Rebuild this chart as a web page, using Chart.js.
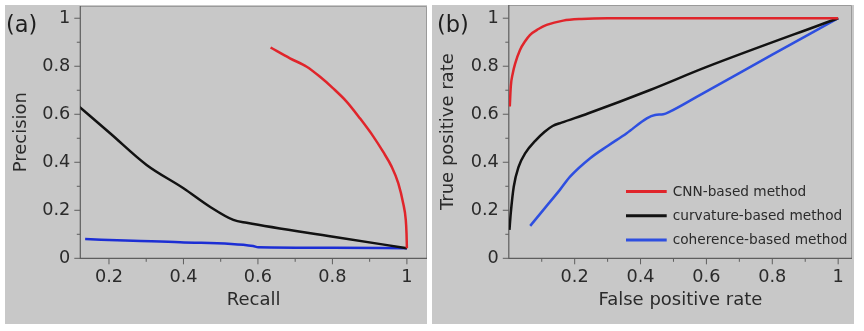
<!DOCTYPE html>
<html>
<head>
<meta charset="utf-8">
<script src="https://cdn.jsdelivr.net/npm/chart.js@4/dist/chart.umd.min.js"></script>
<style>
  html, body { margin: 0; padding: 0; background: #ffffff; }
  body { width: 864px; height: 331px; position: relative; overflow: hidden; }
  .panel { position: absolute; top: 5px; height: 319px; background: #c8c8c8; }
  #pa { left: 5px; width: 422px; }
  #pb { left: 432px; width: 422px; }
  canvas { display: block; }
</style>
</head>
<body>
<div class="panel" id="pa"><canvas id="ca" width="422" height="319"></canvas></div>
<div class="panel" id="pb"><canvas id="cb" width="422" height="319"></canvas></div>
<script>
// ---- (a) precision-recall curves ----
const prCnnRecall       = [0.634, 0.686, 0.731, 0.766, 0.802, 0.838, 0.874, 0.910, 0.936, 0.959, 0.977, 0.990, 0.997, 0.999, 1.0];
const prCnnPrecision    = [0.878, 0.833, 0.798, 0.757, 0.708, 0.653, 0.583, 0.507, 0.444, 0.382, 0.312, 0.229, 0.160, 0.104, 0.042];
const prCurvRecall      = [0.120, 0.203, 0.301, 0.400, 0.471, 0.534, 0.570, 0.802, 1.0];
const prCurvPrecision   = [0.632, 0.521, 0.389, 0.292, 0.215, 0.160, 0.148, 0.090, 0.042];
const prCohRecall       = [0.136, 0.265, 0.391, 0.587, 0.601, 0.802, 1.0];
const prCohPrecision    = [0.080, 0.073, 0.067, 0.051, 0.046, 0.044, 0.042];

// ---- (b) ROC curves ----
const rocCnnFpr   = [0.003, 0.006, 0.012, 0.019, 0.034, 0.050, 0.064, 0.090, 0.115, 0.165, 0.220, 0.300, 0.500, 1.0];
const rocCnnTpr   = [0.632, 0.715, 0.770, 0.810, 0.868, 0.905, 0.930, 0.955, 0.972, 0.990, 0.997, 1.0, 1.0, 1.0];
const rocCurvFpr  = [0.002, 0.006, 0.015, 0.030, 0.050, 0.081, 0.108, 0.133, 0.160, 0.240, 0.429, 0.597, 1.0];
const rocCurvTpr  = [0.118, 0.188, 0.298, 0.382, 0.438, 0.490, 0.526, 0.551, 0.565, 0.603, 0.701, 0.795, 1.0];
const rocCohFpr   = [0.065, 0.110, 0.155, 0.186, 0.247, 0.300, 0.358, 0.419, 0.444, 0.469, 0.489, 0.580, 0.800, 1.0];
const rocCohTpr   = [0.135, 0.210, 0.285, 0.340, 0.417, 0.468, 0.521, 0.583, 0.597, 0.600, 0.611, 0.680, 0.848, 1.0];

// ---- axis ticks ----
const prXMajor  = [0.2, 0.4, 0.6, 0.8, 1];
const prXMinor  = [0.3, 0.5, 0.7, 0.9];
const rocXMajor = [0.2, 0.4, 0.6, 0.8, 1];
const rocXMinor = [0.1, 0.3, 0.5, 0.7, 0.9];
const yMajor    = [0, 0.2, 0.4, 0.6, 0.8, 1];
const yMinor    = [0.1, 0.3, 0.5, 0.7, 0.9];

const seriesNames = ['CNN-based method', 'curvature-based method', 'coherence-based method'];

const FONT = "'DejaVu Sans', 'Liberation Sans', Arial, sans-serif";
const TEXT = '#2b2b2b';
const RED = '#e0252b', BLACK = '#121212', BLUE_A = '#1c2ed4', BLUE_B = '#2e4fe0';

const zip = (xs, ys) => xs.map((x, i) => ({ x, y: ys[i] }));
const fmt = v => String(Math.round(v * 10) / 10);

function line(label, data, color) {
  return {
    label, data,
    borderColor: color, backgroundColor: color,
    borderWidth: 2.5, pointRadius: 0, fill: false,
    cubicInterpolationMode: 'monotone'
  };
}

// frame, tick marks, panel letter and in-plot legend
const decor = {
  id: 'decor',
  beforeDatasetsDraw(chart, _args, o) {
    const { ctx, chartArea: a } = chart;
    const xs = chart.scales.x, ys = chart.scales.y;
    ctx.save();
    ctx.lineWidth = 1;
    ctx.strokeStyle = '#9a9a9a';
    ctx.beginPath();
    ctx.moveTo(a.left, a.top + 0.5);
    ctx.lineTo(a.right - 0.5, a.top + 0.5);
    ctx.lineTo(a.right - 0.5, a.bottom);
    ctx.stroke();

    ctx.strokeStyle = '#5e5e5e';
    ctx.lineWidth = 1.2;
    ctx.beginPath();
    ctx.moveTo(a.left, a.top);
    ctx.lineTo(a.left, a.bottom);
    ctx.lineTo(a.right, a.bottom);
    ctx.stroke();

    ctx.lineWidth = 1;
    ctx.beginPath();
    o.xMajor.forEach(v => { const p = xs.getPixelForValue(v); ctx.moveTo(p, a.bottom); ctx.lineTo(p, a.bottom + 6); });
    o.xMinor.forEach(v => { const p = xs.getPixelForValue(v); ctx.moveTo(p, a.bottom); ctx.lineTo(p, a.bottom + 3.5); });
    o.yMajor.forEach(v => { const p = ys.getPixelForValue(v); ctx.moveTo(a.left, p); ctx.lineTo(a.left - 6, p); });
    o.yMinor.forEach(v => { const p = ys.getPixelForValue(v); ctx.moveTo(a.left, p); ctx.lineTo(a.left - 3.5, p); });
    ctx.stroke();
    ctx.restore();
  },
  afterDraw(chart, _args, o) {
    const { ctx } = chart;
    ctx.save();
    ctx.fillStyle = '#1e1e1e';
    ctx.font = `22.5px ${FONT}`;
    ctx.textAlign = 'left';
    ctx.textBaseline = 'alphabetic';
    ctx.fillText(o.letter, o.letterX, 27);

    if (o.legend) {
      ctx.font = `13.7px ${FONT}`;
      ctx.textBaseline = 'middle';
      chart.data.datasets.forEach((ds, i) => {
        const y = 186.5 + i * 24.3;
        ctx.strokeStyle = ds.borderColor;
        ctx.lineWidth = 3;
        ctx.beginPath();
        ctx.moveTo(194, y);
        ctx.lineTo(234.7, y);
        ctx.stroke();
        ctx.fillStyle = TEXT;
        ctx.fillText(ds.label, 240.7, y + 0.5);
      });
    }
    ctx.restore();
  }
};

function scales(c) {
  return {
    x: {
      type: 'linear', min: c.xMin, max: c.xMax,
      grid: { display: false, drawTicks: false },
      border: { display: false },
      afterBuildTicks: s => { s.ticks = c.xMajor.map(v => ({ value: v })); },
      afterFit: s => { s.height = c.xAxisHeight; s.paddingLeft = 0; s.paddingRight = 0; },
      ticks: { padding: 8, color: TEXT, autoSkip: false, maxRotation: 0,
               font: { family: FONT, size: 17.7 }, callback: v => fmt(v) },
      title: { display: true, text: c.xTitle, color: TEXT,
               font: { family: FONT, size: 18 }, padding: { top: 0, bottom: 13 } }
    },
    y: {
      type: 'linear', min: 0, max: c.yMax,
      grid: { display: false, drawTicks: false },
      border: { display: false },
      afterBuildTicks: s => { s.ticks = yMajor.map(v => ({ value: v })); },
      afterFit: s => { s.width = c.yAxisWidth; s.paddingTop = 0; s.paddingBottom = 0; },
      ticks: { padding: 10, color: TEXT, autoSkip: false,
               font: { family: FONT, size: 17.7 }, callback: v => fmt(v) },
      title: { display: true, text: c.yTitle, color: TEXT,
               font: { family: FONT, size: 18 }, padding: { top: 5.5, bottom: 0 } }
    }
  };
}

function makeChart(id, datasets, c, deco, padding) {
  return new Chart(document.getElementById(id), {
    type: 'line',
    data: { datasets },
    options: {
      responsive: false,
      animation: false,
      devicePixelRatio: 1,
      layout: { padding },
      parsing: true,
      plugins: { legend: { display: false }, tooltip: { enabled: false }, decor: deco },
      scales: scales(c)
    },
    plugins: [decor]
  });
}

makeChart('ca', [
  line(seriesNames[0], zip(prCnnRecall, prCnnPrecision), RED),
  line(seriesNames[1], zip(prCurvRecall, prCurvPrecision), BLACK),
  line(seriesNames[2], zip(prCohRecall, prCohPrecision), BLUE_A)
], {
  xMin: 0.123, xMax: 1.054, yMax: 1.051, xMajor: prXMajor,
  xAxisHeight: 65.7, yAxisWidth: 75.3, xTitle: 'Recall', yTitle: 'Precision'
}, {
  xMajor: prXMajor, xMinor: prXMinor, yMajor, yMinor, letter: '(a)', letterX: 1, legend: false
}, { top: 1, right: 0, left: 0, bottom: 0 });

makeChart('cb', [
  line(seriesNames[0], zip(rocCnnFpr, rocCnnTpr), RED),
  line(seriesNames[1], zip(rocCurvFpr, rocCurvTpr), BLACK),
  line(seriesNames[2], zip(rocCohFpr, rocCohTpr), BLUE_B)
], {
  xMin: 0, xMax: 1.042, yMax: 1.055, xMajor: rocXMajor,
  xAxisHeight: 65.7, yAxisWidth: 76.8, xTitle: 'False positive rate', yTitle: 'True positive rate'
}, {
  xMajor: rocXMajor, xMinor: rocXMinor, yMajor, yMinor, letter: '(b)', letterX: 5, legend: true
}, { top: 0, right: 2, left: 0, bottom: 0 });
</script>
</body>
</html>
